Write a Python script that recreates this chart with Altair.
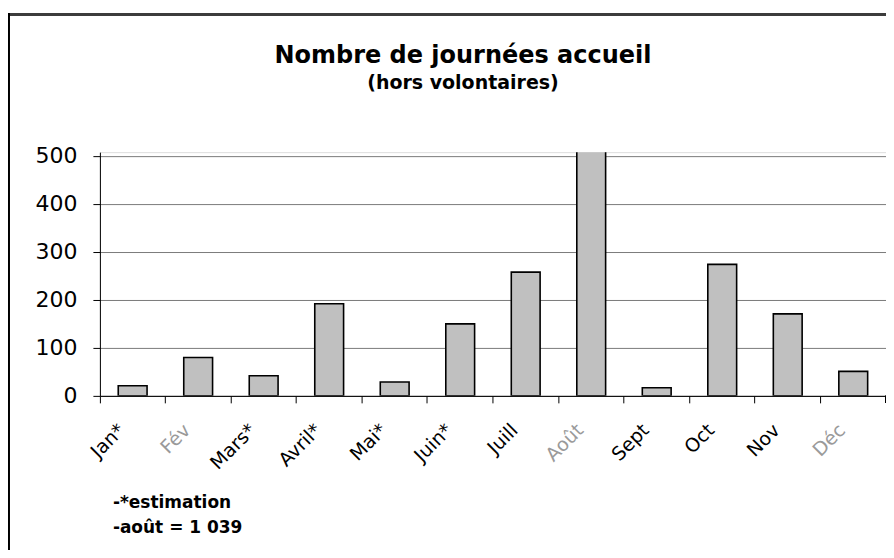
import altair as alt
import pandas as pd

months = ["Jan*", "Fév", "Mars*", "Avril*", "Mai*", "Juin*", "Juill", "Août", "Sept", "Oct", "Nov", "Déc"]
values = [21, 80, 42, 192, 29, 150, 258, 1039, 17, 274, 171, 51]
y_ticks = [0, 100, 200, 300, 400, 500]
notes = ["-*estimation", "-août = 1 039"]
faded = ["Fév", "Août", "Déc"]

df = pd.DataFrame({"mois": months, "valeur": values})

W, H = 787, 244
FONT = "DejaVu Sans"

x_enc = alt.X(
    "mois:N",
    sort=months,
    scale=alt.Scale(paddingInner=0, paddingOuter=0),
    axis=alt.Axis(
        title=None,
        bandPosition=0,
        labelOffset=-11,
        labelAngle=-45,
        labelAlign="right",
        labelBaseline="middle",
        labelFont=FONT,
        labelFontSize=19,
        labelColor={"condition": {"test": "indexof(['Fév','Août','Déc'], datum.value) >= 0", "value": "#9a9a9a"}, "value": "black"},
        labelPadding=24,
        tickSize=7,
        tickColor="black",
        domainColor="black",
        domainWidth=1,
        labelOverlap=False,
        grid=False,
    ),
)

y_enc = alt.Y(
    "valeur:Q",
    scale=alt.Scale(domain=[0, 508], nice=False, zero=True),
    axis=alt.Axis(
        title=None,
        values=y_ticks,
        labelFont=FONT,
        labelFontSize=22,
        labelColor="black",
        labelPadding=16,
        tickSize=7,
        tickColor="black",
        domainColor="black",
        grid=True,
        gridColor="#7a7a7a",
        gridWidth=1,
    ),
)

bars = alt.Chart(df).mark_bar(
    color="#c0c0c0", stroke="black", strokeWidth=1.6, clip=True,
    width=alt.RelativeBandSize(0.44),
).encode(x=x_enc, y=y_enc)

end_tick = alt.Chart(df).mark_rule(color="black").encode(
    x=alt.value(W), y=alt.value(H), y2=alt.value(H + 7)
)

note_layers = []
for i, line in enumerate(notes):
    note_layers.append(
        alt.Chart(pd.DataFrame({"note": [line]})).mark_text(
            align="left", baseline="alphabetic", font=FONT, fontSize=17,
            fontWeight="bold", color="black",
        ).encode(text="note:N", x=alt.value(13), y=alt.value(356 + 25 * i))
    )

border_top = alt.Chart(df).mark_rule(color="#3c3c3c", strokeWidth=2.5).encode(
    x=alt.value(-92), x2=alt.value(W + 10), y=alt.value(-138)
)
border_left = alt.Chart(df).mark_rule(color="black", strokeWidth=1.5).encode(
    x=alt.value(-91.5), y=alt.value(-139), y2=alt.value(H + 170)
)

chart = alt.layer(bars, end_tick, *note_layers, border_top, border_left).properties(
    width=W,
    height=H,
    autosize=alt.AutoSizeParams(type="none"),
    padding={"left": 92, "top": 144, "right": 0, "bottom": 154},
    title=alt.TitleParams(
        text="Nombre de journées accueil",
        subtitle="(hors volontaires)",
        font=FONT,
        fontSize=24,
        fontWeight="bold",
        color="black",
        subtitleFont=FONT,
        subtitleFontSize=19,
        subtitleFontWeight="bold",
        subtitleColor="black",
        subtitlePadding=6,
        anchor="middle",
        frame="group",
        dx=-30,
        offset=-81,
    ),
).configure_view(stroke=None).configure(background="white")

chart.save("out.html", embed_options={"renderer": "svg", "actions": False})
